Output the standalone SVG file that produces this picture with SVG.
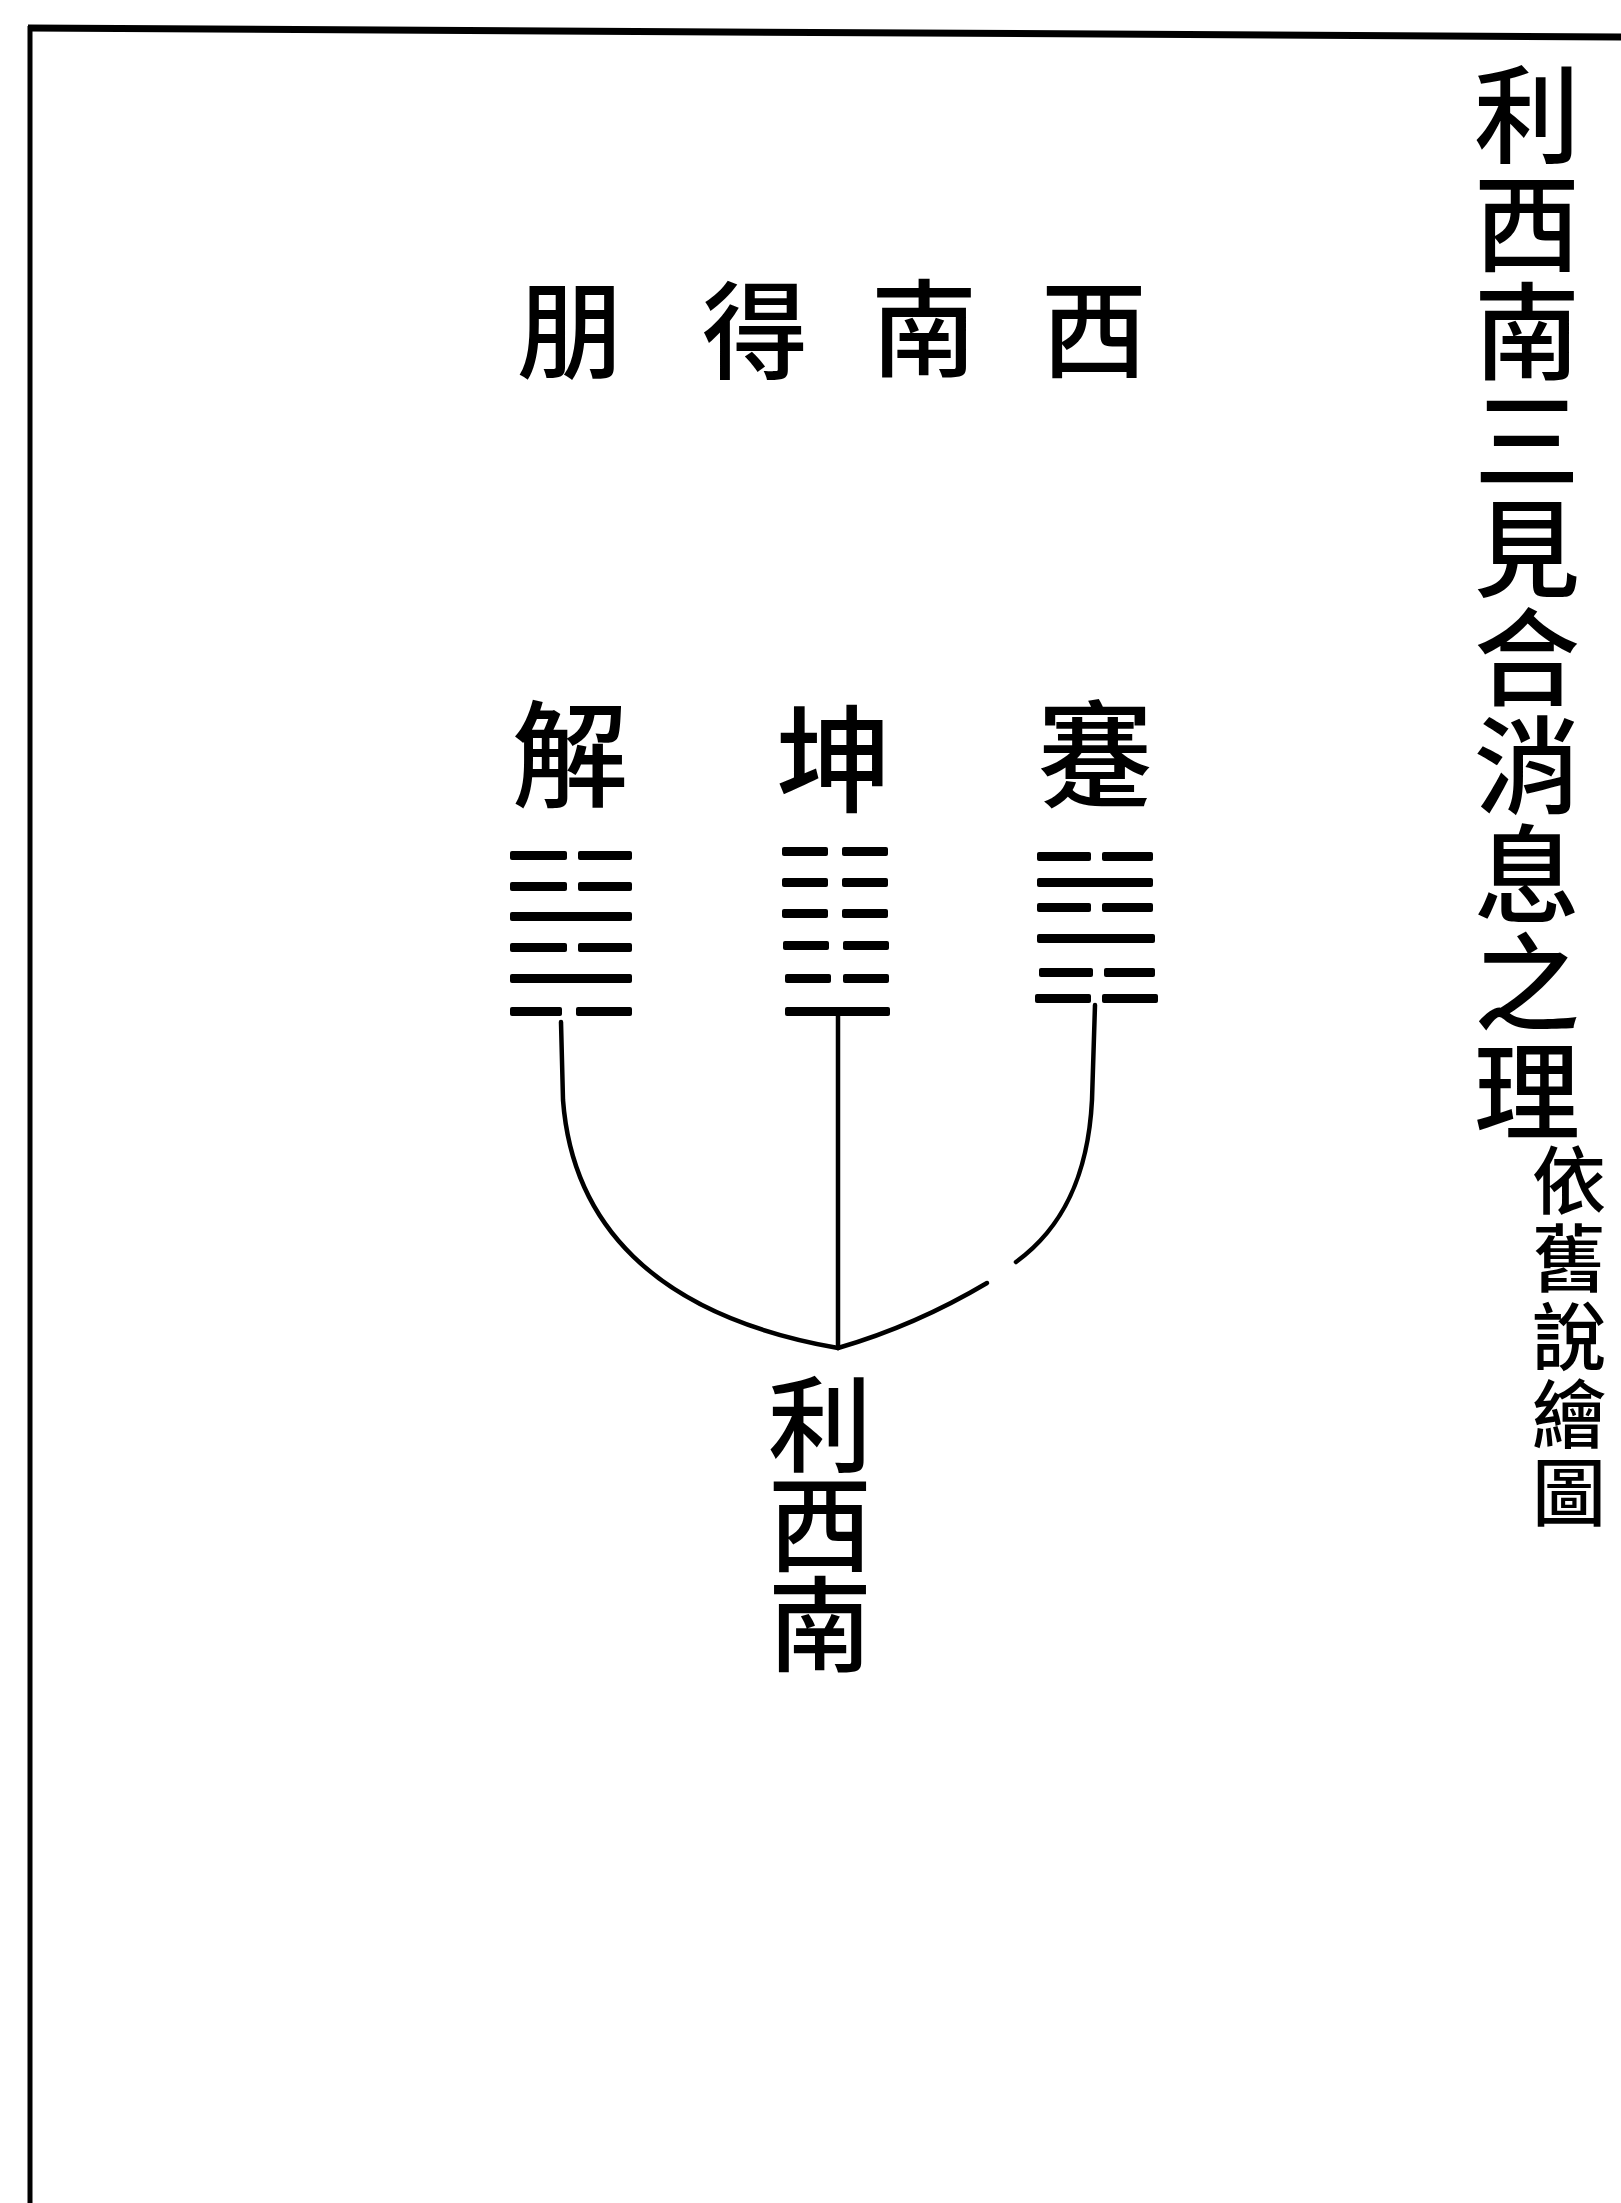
<svg xmlns="http://www.w3.org/2000/svg" width="1621" height="2203" viewBox="0 0 1621 2203">
<style>
.t{font-family:"Noto Sans CJK TC","Noto Sans CJK SC",sans-serif;fill:#000;text-anchor:middle;font-weight:500}
.v{font-family:"Noto Sans CJK TC","Noto Sans CJK SC",sans-serif;fill:#000;text-anchor:start;font-weight:500;writing-mode:vertical-rl}
.yao{fill:#000}
.conn{fill:none;stroke:#000;stroke-width:4.5;stroke-linecap:round}
.frame{stroke:#000;fill:none}
</style>
<rect width="1621" height="2203" fill="#fff"/>
<g id="frame">
<line class="frame" x1="28" y1="28" x2="1621" y2="37" stroke-width="7"/>
<line class="frame" x1="30" y1="26" x2="30" y2="2203" stroke-width="5"/>
</g>
<g id="title">
<text class="v" font-size="106" letter-spacing="2.5" x="1527" y="61">利西南三見合消息之理</text>
</g>
<g id="subtitle">
<text class="v" font-size="74" letter-spacing="4" x="1569" y="1143">依舊說繪圖</text>
</g>
<g id="top-row">
<text class="t" font-size="106" x="570" y="370">朋</text>
<text class="t" font-size="106" x="755" y="370">得</text>
<text class="t" font-size="106" x="924" y="368">南</text>
<text class="t" font-size="106" x="1094" y="369">西</text>
</g>
<g id="hex-jie">
<text class="t" font-size="116" x="570" y="798">解</text>
<rect class="yao" x="510" y="851" width="57" height="9" rx="2"/><rect class="yao" x="578" y="851" width="54" height="9" rx="2"/>
<rect class="yao" x="510" y="882" width="57" height="9" rx="2"/><rect class="yao" x="578" y="882" width="54" height="9" rx="2"/>
<rect class="yao" x="510" y="912" width="122" height="9" rx="2"/>
<rect class="yao" x="510" y="943" width="57" height="9" rx="2"/><rect class="yao" x="578" y="943" width="54" height="9" rx="2"/>
<rect class="yao" x="510" y="974" width="122" height="9" rx="2"/>
<rect class="yao" x="510" y="1007" width="52" height="9" rx="2"/><rect class="yao" x="576" y="1007" width="56" height="9" rx="2"/>
</g>
<g id="hex-kun">
<text class="t" font-size="116" x="834" y="803">坤</text>
<rect class="yao" x="782" y="847" width="46" height="9" rx="2"/><rect class="yao" x="842" y="847" width="46" height="9" rx="2"/>
<rect class="yao" x="782" y="878" width="46" height="9" rx="2"/><rect class="yao" x="842" y="878" width="46" height="9" rx="2"/>
<rect class="yao" x="782" y="909" width="46" height="9" rx="2"/><rect class="yao" x="842" y="909" width="46" height="9" rx="2"/>
<rect class="yao" x="783" y="941" width="46" height="9" rx="2"/><rect class="yao" x="843" y="941" width="46" height="9" rx="2"/>
<rect class="yao" x="785" y="974" width="46" height="9" rx="2"/><rect class="yao" x="843" y="974" width="46" height="9" rx="2"/>
<rect class="yao" x="785" y="1007" width="105" height="9" rx="2"/>
</g>
<g id="hex-jian">
<text class="t" font-size="116" x="1095" y="798">蹇</text>
<rect class="yao" x="1037" y="852" width="54" height="9" rx="2"/><rect class="yao" x="1102" y="852" width="51" height="9" rx="2"/>
<rect class="yao" x="1037" y="878" width="116" height="9" rx="2"/>
<rect class="yao" x="1037" y="903" width="54" height="9" rx="2"/><rect class="yao" x="1102" y="903" width="51" height="9" rx="2"/>
<rect class="yao" x="1037" y="934" width="118" height="9" rx="2"/>
<rect class="yao" x="1039" y="968" width="54" height="9" rx="2"/><rect class="yao" x="1104" y="968" width="51" height="9" rx="2"/>
<rect class="yao" x="1035" y="994" width="56" height="9" rx="2"/><rect class="yao" x="1102" y="994" width="56" height="9" rx="2"/>
</g>
<g id="connectors">
<path class="conn" d="M561,1022 L563,1100 C572,1220 650,1315 838,1348"/>
<path class="conn" d="M838,1013 L838,1348"/>
<path class="conn" d="M1095,1005 L1092,1100 C1088,1180 1060,1230 1016,1262"/>
<path class="conn" d="M987,1283 C950,1305 900,1330 838,1348"/>
</g>
<g id="bottom-label">
<text class="v" font-size="104" letter-spacing="-4" x="820" y="1372">利西南</text>
</g>
</svg>
